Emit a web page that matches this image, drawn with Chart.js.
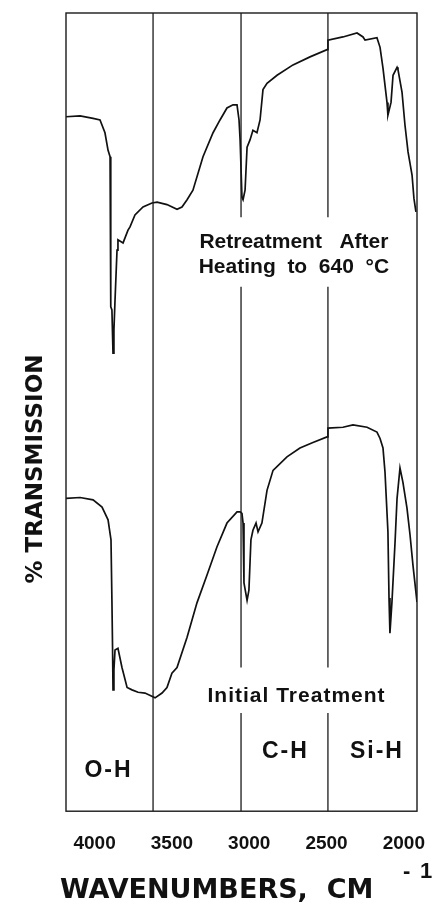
<!DOCTYPE html>
<html>
<head>
<meta charset="utf-8">
<script src="https://cdn.jsdelivr.net/npm/chart.js@4.4.0/dist/chart.umd.min.js"></script>
<style>
  html, body { margin: 0; padding: 0; background: #fff; }
</style>
</head>
<body>
<canvas id="chart" width="436" height="918"></canvas>
<script>
// tick labels of the wavenumber axis
var tickValues = [4000, 3500, 3000, 2500, 2000];
// vertical region lines (cm-1)
var regionLines = [3622, 3053, 2491];

// upper trace: retreatment after heating to 640 C
var retreatWn = [4185, 4094, 4010, 3965, 3933, 3913, 3900, 3897, 3894, 3888, 3881, 3875, 3868, 3855, 3849,
  3816, 3784, 3771, 3739, 3687, 3629, 3596, 3532, 3467, 3435, 3402, 3364, 3299, 3234, 3189, 3144, 3105,
  3079, 3066, 3059, 3047, 3040, 3027, 3014, 2995, 2976, 2950, 2930, 2911, 2885, 2820, 2717, 2607, 2497,
  2491, 2394, 2303, 2264, 2251, 2174, 2154, 2135, 2109, 2103, 2083, 2070, 2044, 2038, 2012, 1993, 1973,
  1947, 1935, 1922];
var retreatT = [87.0, 87.1, 86.8, 86.6, 85.0, 82.8, 82.0, 70.3, 63.2, 62.8, 57.4, 60.3, 64.0, 70.3, 71.6,
  71.2, 72.8, 73.2, 74.7, 75.7, 76.2, 76.3, 76.0, 75.4, 75.7, 76.6, 77.8, 82.0, 85.0, 86.6, 88.1, 88.5,
  88.5, 86.6, 84.1, 76.9, 76.6, 77.8, 83.2, 84.1, 85.3, 85.0, 86.6, 90.4, 91.2, 92.2, 93.5, 94.5, 95.4,
  96.6, 97.0, 97.5, 97.0, 96.6, 96.9, 95.7, 93.1, 88.8, 87.2, 88.8, 92.2, 93.2, 92.9, 90.1, 86.0, 82.6,
  79.7, 76.8, 75.1];

// lower trace: initial treatment
var initialWn = [4185, 4094, 4010, 3952, 3913, 3894, 3888, 3884, 3881, 3875, 3868, 3849, 3823, 3790, 3758,
  3719, 3674, 3609, 3564, 3532, 3500, 3467, 3402, 3338, 3273, 3209, 3144, 3079, 3059, 3047, 3040, 3034,
  3014, 3002, 2989, 2976, 2956, 2943, 2918, 2885, 2846, 2756, 2672, 2588, 2497, 2491, 2394, 2329, 2238,
  2174, 2154, 2135, 2122, 2103, 2096, 2090, 2077, 2057, 2044, 2025, 2006, 1980, 1960, 1941, 1915];
var initialT = [39.2, 39.3, 39.0, 38.1, 36.5, 34.0, 26.4, 20.6, 15.2, 17.7, 20.2, 20.4, 18.0, 15.5, 15.2,
  14.9, 14.8, 14.2, 14.8, 15.5, 17.3, 18.0, 21.8, 26.1, 29.6, 33.1, 36.1, 37.5, 37.5, 37.3, 36.1, 28.6,
  26.4, 27.7, 34.0, 35.2, 36.1, 35.0, 36.1, 40.2, 42.7, 44.4, 45.5, 46.2, 46.9, 48.0, 48.1, 48.4, 48.1,
  47.5, 46.7, 45.5, 42.5, 35.0, 26.7, 22.3, 26.2, 33.7, 39.2, 43.0, 41.2, 38.0, 34.6, 30.8, 26.2];

function toPoints(xs, ys) {
  return xs.map(function (v, i) { return { x: v, y: ys[i] }; });
}

// region lines, broken where the trace labels sit
function regionLine(v, i) {
  if (i === 0) return [{ x: v, y: 0 }, { x: v, y: 100 }];
  return [{ x: v, y: 0 }, { x: v, y: 12.3 }, { x: v, y: null }, { x: v, y: 18.0 }, { x: v, y: 65.7 },
    { x: v, y: null }, { x: v, y: 74.4 }, { x: v, y: 100 }];
}

var datasets = regionLines.map(function (v, i) {
  return { data: regionLine(v, i), borderColor: '#1a1a1a', borderWidth: 1.3, spanGaps: false };
});
datasets.push({ data: toPoints(retreatWn, retreatT), borderColor: '#111', borderWidth: 1.7 });
datasets.push({ data: toPoints(initialWn, initialT), borderColor: '#111', borderWidth: 1.7 });

var textPlugin = {
  id: 'spectrumText',
  afterDraw: function (chart) {
    var ctx = chart.ctx, a = chart.chartArea;
    var sx = chart.scales.x, sy = chart.scales.y;
    ctx.save();
    ctx.strokeStyle = '#1a1a1a';
    ctx.lineWidth = 1.4;
    ctx.strokeRect(a.left, a.top, a.right - a.left, a.bottom - a.top);

    ctx.fillStyle = '#111';
    ctx.textAlign = 'center';
    ctx.textBaseline = 'middle';
    function note(txt, v, t, font, sp) {
      ctx.font = font;
      ctx.letterSpacing = sp || '0px';
      ctx.fillText(txt, sx.getPixelForValue(v), sy.getPixelForValue(t));
    }
    note('Retreatment   After', 2711, 71.3, 'bold 21px "Liberation Sans"');
    note('Heating  to  640  \u00B0C', 2711, 68.2, 'bold 21px "Liberation Sans"');
    note('Initial Treatment', 2694, 14.4, 'bold 21px "Liberation Sans"', '1px');
    note('O-H', 3910, 5.1, 'bold 23px "Liberation Sans"', '2px');
    note('C-H', 2766, 7.4, 'bold 23px "Liberation Sans"', '2px');
    note('Si-H', 2174, 7.4, 'bold 23px "Liberation Sans"', '2px');

    // axis titles
    ctx.letterSpacing = '0px';
    ctx.save();
    ctx.translate(36, 469);
    ctx.rotate(-Math.PI / 2);
    ctx.font = 'bold 23px "DejaVu Sans"';
    ctx.fillText('% TRANSMISSION', 0, 0);
    ctx.restore();

    ctx.textAlign = 'left';
    ctx.textBaseline = 'alphabetic';
    ctx.font = 'bold 27px "DejaVu Sans"';
    ctx.fillText('WAVENUMBERS,  CM', 60, 898);
    ctx.font = 'bold 22px "Liberation Sans"';
    ctx.fillText('-', 403, 878);
    ctx.fillText('1', 420, 878);
    ctx.restore();
  }
};

new Chart(document.getElementById('chart').getContext('2d'), {
  type: 'line',
  data: { datasets: datasets },
  options: {
    responsive: false,
    animation: false,
    layout: { autoPadding: false, padding: { left: 66, right: 19, top: 13, bottom: 42 } },
    elements: { point: { radius: 0 }, line: { tension: 0 } },
    plugins: { legend: { display: false }, tooltip: { enabled: false } },
    scales: {
      x: {
        type: 'linear',
        reverse: true,
        min: 1915,
        max: 4185,
        afterBuildTicks: function (scale) {
          scale.ticks = tickValues.map(function (v) { return { value: v }; });
        },
        afterFit: function (scale) {
          // labels fit inside the page margins, no extra side padding
          scale.paddingLeft = 0;
          scale.paddingRight = 0;
        },
        grid: { display: false, drawTicks: false },
        border: { display: false },
        ticks: {
          padding: 21,
          color: '#111',
          maxRotation: 0,
          autoSkip: false,
          font: { family: '"Liberation Sans"', size: 19, weight: 'bold' },
          callback: function (v) { return String(v); }
        }
      },
      y: {
        type: 'linear',
        display: false,
        min: 0,
        max: 100
      }
    }
  },
  plugins: [textPlugin]
});
</script>
</body>
</html>
